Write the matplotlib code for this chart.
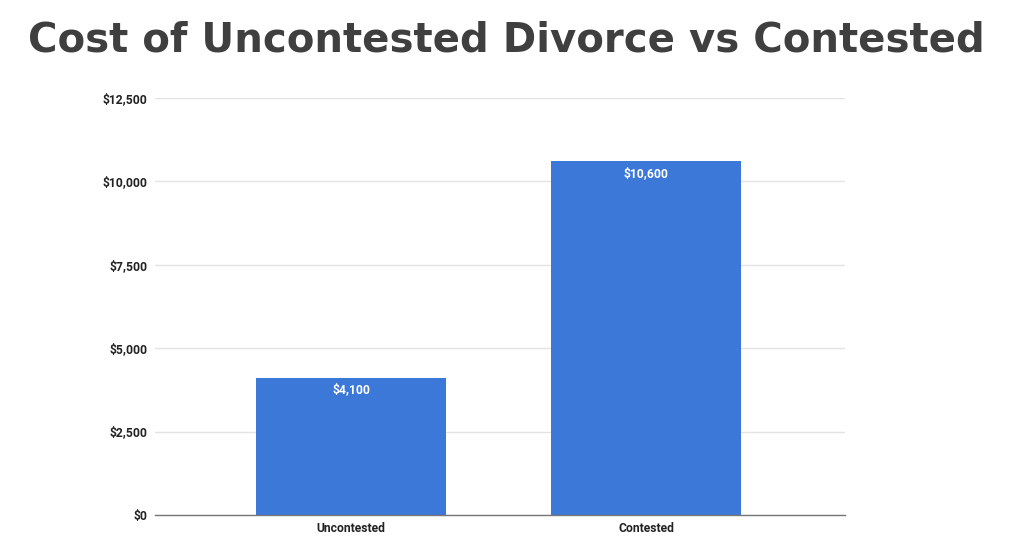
import matplotlib
matplotlib.use("Agg")
import matplotlib.pyplot as plt
from matplotlib.ticker import FuncFormatter

categories = ["Uncontested", "Contested"]
costs = [4100, 10600]
yticks = [0, 2500, 5000, 7500, 10000, 12500]
title = "Cost of Uncontested Divorce vs Contested"

W, H = 1016, 555
fig = plt.figure(figsize=(W / 100, H / 100), dpi=100)
ax = fig.add_axes([155 / W, 40 / H, (845 - 155) / W, (515 - 98) / H])

x = list(range(len(categories)))
bars = ax.bar(x, costs, width=0.645, color="#3c78d8", zorder=3)
ax.set_xlim(-196 / 295, 1 + 199 / 295)
ax.set_ylim(0, 12500)
ax.set_yticks(yticks)
ax.yaxis.set_major_formatter(FuncFormatter(lambda v, p: f"${v:,.0f}"))
ax.set_xticks(x)
ax.set_xticklabels(categories)

for lab in ax.get_yticklabels() + ax.get_xticklabels():
    lab.set_fontfamily("Roboto")
    lab.set_fontweight("bold")
    lab.set_fontsize(8.7)
    lab.set_color("#222222")

ax.tick_params(axis="y", length=0, pad=5.5)
ax.tick_params(axis="x", length=0, pad=5)
ax.grid(axis="y", color="#e3e3e3", linewidth=1, zorder=0)
for s in ["top", "right", "left"]:
    ax.spines[s].set_visible(False)
ax.spines["bottom"].set_color("#777777")
ax.spines["bottom"].set_linewidth(1)
ax.spines["bottom"].set_zorder(4)

for xi, v in zip(x, costs):
    ax.annotate(f"${v:,.0f}", (xi, v), xytext=(0, -8.5), textcoords="offset points",
                ha="center", va="center", color="white", fontsize=8.7,
                fontfamily="Roboto", fontweight="bold", zorder=5)

fig.text(506 / W, 1 - 41 / H, title, ha="center", va="center", fontsize=29,
         fontweight="bold", fontfamily="DejaVu Sans", color="#3f3f3f")

fig.savefig("out.png", dpi=100, facecolor="white")
